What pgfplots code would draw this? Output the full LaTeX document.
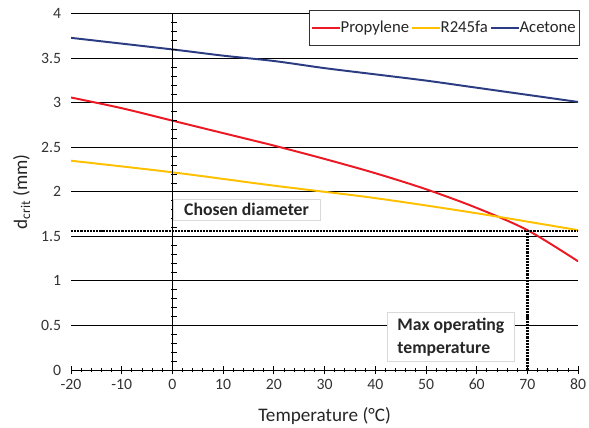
\documentclass[border=0pt]{standalone}
\usepackage{pgfplots}
\pgfplotsset{compat=1.18}
\usepackage{fontspec}
\setmainfont{Carlito}
\definecolor{cred}{RGB}{235,25,35}
\definecolor{cyel}{RGB}{255,192,0}
\definecolor{cblue}{RGB}{44,60,130}
\begin{document}
\begin{tikzpicture}
\begin{axis}[
  scale only axis, width=514bp, height=361bp,
  xmin=-20, xmax=80, ymin=0, ymax=4,
  xtick={-20,-10,...,80}, ytick={0,0.5,...,4},
  minor x tick num=4,
  axis line style={draw=none},
  ymajorgrids, grid style={black, line width=0.9pt},
  ytick style={draw=none},
  xtick pos=bottom, tick align=center,
  major tick length=9bp, minor tick length=5bp,
  xtick style={black, line width=0.9pt},
  /pgf/number format/assume math mode=true,
  /pgf/number format/fixed,
  ticklabel style={font=\fontsize{16}{18}\selectfont, text=black!80},
  yticklabel style={anchor=east, xshift=-2bp},
  xticklabel style={anchor=center, yshift=-10bp},
  xlabel={Temperature (°C)}, ylabel={d\textsubscript{crit} (mm)},
  every axis x label/.style={at={([yshift=-47bp]rel axis cs:0.5,0)}, anchor=center},
  every axis y label/.style={at={([xshift=-50bp]rel axis cs:0,0.5)}, anchor=center, rotate=90},
  label style={font=\fontsize{19.5}{22}\selectfont, text=black!85},
  legend columns=3,
  legend style={at={(1.004,1.011)}, anchor=north east, draw=black!80, line width=0.9pt,
    font=\fontsize{17}{19}\selectfont, text=black!85, inner xsep=2pt, inner ysep=9pt,
    /tikz/every even column/.append style={column sep=0pt},
    /tikz/every odd column/.append style={column sep=-2pt}},
  legend image code/.code={\draw[#1, line width=2pt] (0,0) -- (28bp,0);},
]
\addplot[cred, line width=2pt, smooth] coordinates {(-20,3.06) (-10,2.94) (0,2.80) (10,2.66) (20,2.52) (30,2.37) (40,2.21) (50,2.03) (60,1.82) (70,1.57) (80,1.22)};
\addlegendentry{Propylene}
\addplot[cyel, line width=2pt, smooth] coordinates {(-20,2.35) (0,2.22) (20,2.07) (40,1.93) (60,1.76) (80,1.57)};
\addlegendentry{R245fa}
\addplot[cblue, line width=2pt, smooth] coordinates {(-20,3.73) (0,3.60) (10,3.53) (20,3.47) (30,3.39) (40,3.32) (50,3.25) (60,3.17) (70,3.09) (80,3.01)};
\addlegendentry{Acetone}
\addplot[black, densely dotted, line width=2.2pt, forget plot] coordinates {(-20,1.56) (80,1.56)};
\addplot[black, densely dotted, line width=2.2pt, forget plot] coordinates {(70,0) (70,1.56)};
\draw[black, line width=0.9pt] (axis cs:-20,0) -- (axis cs:80,0);
\draw[black, line width=0.9pt] (axis cs:0,0) -- (axis cs:0,4);
\pgfplotsinvokeforeach{0.1,0.2,0.3,0.4,0.6,0.7,0.8,0.9,1.1,1.2,1.3,1.4,1.6,1.7,1.8,1.9,2.1,2.2,2.3,2.4,2.6,2.7,2.8,2.9,3.1,3.2,3.3,3.4,3.6,3.7,3.8,3.9}{\draw[black, line width=0.7pt] ([xshift=-1bp]axis cs:0,#1) -- ([xshift=5bp]axis cs:0,#1);}
\node[draw=black!15, fill=white, font=\bfseries\fontsize{18}{20}\selectfont, text=black!85, inner xsep=11bp, inner ysep=4bp] at (axis cs:14.6,1.80) {Chosen diameter};
\node[draw=black!15, fill=white, font=\bfseries\fontsize{18}{24}\selectfont, text=black!85, align=left, inner xsep=10bp, inner ysep=5bp] at (axis cs:54.9,0.37) {Max operating\\temperature};
\coordinate (bl) at (rel axis cs:0,0);
\coordinate (tr) at (rel axis cs:1,1);
\end{axis}
\pgfresetboundingbox
\path[use as bounding box] ([shift={(-72bp,-58bp)}]bl) rectangle ([shift={(11bp,14bp)}]tr);
\end{tikzpicture}
\end{document}
